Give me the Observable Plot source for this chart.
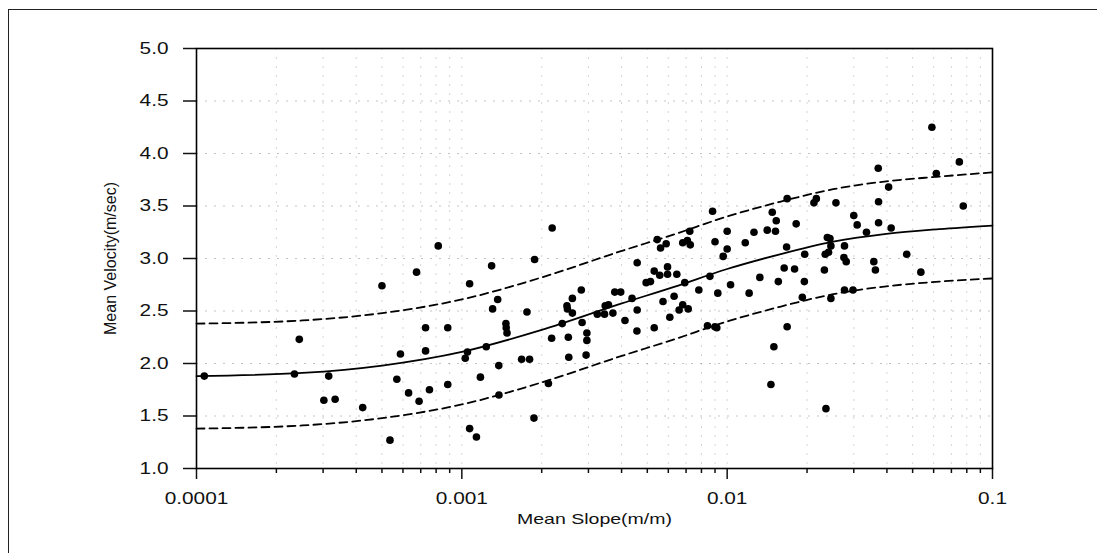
<!DOCTYPE html>
<html><head><meta charset="utf-8">
<script src="https://cdn.jsdelivr.net/npm/d3@7"></script>
<script src="https://cdn.jsdelivr.net/npm/@observablehq/plot@0.6"></script>
<style>
html,body{margin:0;padding:0;background:#fff;}
#wrap{position:relative;width:1097px;height:553px;overflow:hidden;}
#chart svg{display:block;}
#border{position:absolute;left:8px;top:9px;right:-5px;bottom:-5px;border-top:1.5px solid #222;border-left:1.5px solid #222;pointer-events:none;}
</style></head><body>
<div id="wrap"><div id="chart"></div><div id="border"></div></div>
<script>
// Observed points: mean slope (m/m) and mean velocity (m/sec)
const slope = [
  0.000107, 0.000244, 0.000234, 0.000315, 0.000302, 0.000333, 0.000423, 0.000500, 0.000536, 0.000569,
  0.000587, 0.000630, 0.000675, 0.000690, 0.000730, 0.000730, 0.000755, 0.000815, 0.000885, 0.000885,
  0.00103, 0.00105, 0.00107, 0.00107,
  0.001135, 0.001175, 0.001236, 0.001295, 0.001306, 0.001365, 0.001378, 0.00138,
  0.001466, 0.00147, 0.00148, 0.00168, 0.0018, 0.00176, 0.00187, 0.00188,
  0.00212, 0.00218, 0.00219, 0.00239, 0.00252, 0.00253, 0.00249, 0.00250, 0.00261, 0.00261,
  0.00282, 0.00284, 0.00294, 0.00296, 0.00296,
  0.00324, 0.00345, 0.00347, 0.00357, 0.00371, 0.00377, 0.00397, 0.00412, 0.00438, 0.00457,
  0.00458, 0.00458, 0.00495, 0.00514, 0.00531, 0.00531, 0.00545, 0.00561, 0.00589, 0.00557,
  0.00596, 0.00596, 0.00573, 0.00608, 0.00631, 0.00646, 0.00659, 0.0068, 0.00713, 0.00692,
  0.0068, 0.00708, 0.00726, 0.00723, 0.00782, 0.00843, 0.00914, 0.00899, 0.00861, 0.00881,
  0.0090, 0.00922, 0.00966, 0.0100, 0.0100, 0.0103, 0.0117, 0.0121,
  0.01262, 0.01328, 0.01416, 0.01521, 0.01479, 0.01531, 0.01559, 0.0150, 0.01462, 0.0164,
  0.01675, 0.01683, 0.01683, 0.01795, 0.0182, 0.0192, 0.01954, 0.0196, 0.02123, 0.02168,
  0.02325, 0.02357, 0.02385, 0.0244, 0.02342, 0.0241, 0.0246, 0.0246, 0.0257, 0.02768,
  0.02754, 0.0281, 0.02768, 0.0298, 0.0300, 0.0309, 0.0335, 0.0357, 0.0362, 0.0371,
  0.0372, 0.0372, 0.0406, 0.0415, 0.0475, 0.0537, 0.0591, 0.0614, 0.0750, 0.0776
];
const velocity = [
  1.88, 2.23, 1.90, 1.88, 1.65, 1.66, 1.58, 2.74, 1.27, 1.85,
  2.09, 1.72, 2.87, 1.64, 2.34, 2.12, 1.75, 3.12, 2.34, 1.80,
  2.05, 2.11, 2.76, 1.38,
  1.30, 1.87, 2.16, 2.93, 2.52, 2.61, 1.98, 1.70,
  2.38, 2.34, 2.29, 2.04, 2.04, 2.49, 1.48, 2.99,
  1.81, 2.24, 3.29, 2.38, 2.25, 2.06, 2.55, 2.52, 2.62, 2.48,
  2.70, 2.39, 2.08, 2.29, 2.22,
  2.47, 2.47, 2.55, 2.56, 2.48, 2.68, 2.68, 2.41, 2.62, 2.31,
  2.96, 2.51, 2.77, 2.78, 2.34, 2.88, 3.18, 3.10, 3.14, 2.84,
  2.85, 2.92, 2.59, 2.44, 2.64, 2.85, 2.51, 2.56, 2.52, 2.77,
  3.15, 3.17, 3.13, 3.26, 2.70, 2.36, 2.34, 2.35, 2.83, 3.45,
  3.16, 2.67, 3.02, 3.26, 3.09, 2.75, 3.15, 2.67,
  3.25, 2.82, 3.27, 3.26, 3.44, 3.36, 2.78, 2.16, 1.80, 2.91,
  3.11, 3.57, 2.35, 2.90, 3.33, 2.63, 2.78, 3.04, 3.53, 3.57,
  2.89, 1.57, 3.20, 3.19, 3.04, 3.06, 3.12, 2.62, 3.53, 3.12,
  3.01, 2.97, 2.70, 2.70, 3.41, 3.32, 3.25, 2.97, 2.89, 3.86,
  3.54, 3.34, 3.68, 3.29, 3.04, 2.87, 4.25, 3.81, 3.92, 3.50
];
// Fitted curve and its band
const fitSlope    = [0.0001, 0.000251, 0.000501, 0.001, 0.002, 0.00398, 0.00631, 0.01, 0.0158, 0.0251, 0.0398, 0.0631, 0.1];
const fitVelocity = [1.88, 1.91, 1.98, 2.11, 2.32, 2.57, 2.73, 2.90, 3.04, 3.16, 3.235, 3.28, 3.314];
const upperVelocity = [2.38, 2.41, 2.48, 2.61, 2.82, 3.07, 3.23, 3.40, 3.54, 3.66, 3.735, 3.78, 3.82];
const lowerVelocity = [1.38, 1.41, 1.48, 1.61, 1.82, 2.07, 2.23, 2.40, 2.54, 2.66, 2.735, 2.78, 2.81];

const xTickValues = [0.0001, 0.001, 0.01, 0.1];
const xTickLabels = ["0.0001", "0.001", "0.01", "0.1"];
const xMinorTicks = [0.0002, 0.0003, 0.0004, 0.0005, 0.0006, 0.0007, 0.0008, 0.0009,
                     0.002, 0.003, 0.004, 0.005, 0.006, 0.007, 0.008, 0.009,
                     0.02, 0.03, 0.04, 0.05, 0.06, 0.07, 0.08, 0.09];
const yTickValues = [1.0, 1.5, 2.0, 2.5, 3.0, 3.5, 4.0, 4.5, 5.0];
const yGridValues = [1.5, 2.0, 2.5, 3.0, 3.5, 4.0, 4.5];
const xGridValues = [0.0002, 0.0003, 0.0004, 0.0005, 0.0006, 0.0007, 0.0008, 0.0009, 0.001,
                     0.002, 0.003, 0.004, 0.005, 0.006, 0.007, 0.008, 0.009, 0.01,
                     0.02, 0.03, 0.04, 0.05, 0.06, 0.07, 0.08, 0.09];
const xTitle = "Mean Slope(m/m)";
const yTitle = "Mean Velocity(m/sec)";

const points = slope.map((s, i) => ({slope: s, velocity: velocity[i]}));
const fit = fitSlope.map((s, i) => ({slope: s, mid: fitVelocity[i], upper: upperVelocity[i], lower: lowerVelocity[i]}));

const chart = Plot.plot({
  width: 1097, height: 553,
  marginLeft: 196, marginRight: 105, marginTop: 48, marginBottom: 85,
  style: {fontFamily: "'Liberation Sans', Arial, sans-serif", fontSize: "16px", color: "#111", background: "transparent"},
  x: {type: "log", domain: [0.0001, 0.1]},
  y: {domain: [1, 5]},
  marks: [
    Plot.gridY(yGridValues, {stroke: "#888", strokeOpacity: 0.5, strokeDasharray: "2,7"}),
    Plot.gridX(xGridValues, {stroke: "#888", strokeOpacity: 0.35, strokeDasharray: "2,7"}),
    Plot.axisY(yTickValues, {tickSize: 13, tickPadding: 15, tickFormat: d => d.toFixed(1), label: null, strokeWidth: 1.5}),
    Plot.axisX(xTickValues, {tickSize: 11, tickPadding: 13, tickFormat: d => xTickLabels[xTickValues.indexOf(d)], label: null, strokeWidth: 1.5}),
    Plot.axisX(xMinorTicks, {tickSize: 5, tickFormat: () => "", label: null, strokeWidth: 1.5}),
    Plot.frame({stroke: "#000", strokeWidth: 1.6}),
    Plot.line(fit, {x: "slope", y: "upper", curve: "monotone-x", stroke: "#000", strokeWidth: 1.8, strokeDasharray: "8,5"}),
    Plot.line(fit, {x: "slope", y: "lower", curve: "monotone-x", stroke: "#000", strokeWidth: 1.8, strokeDasharray: "8,5"}),
    Plot.line(fit, {x: "slope", y: "mid", curve: "monotone-x", stroke: "#000", strokeWidth: 1.8}),
    Plot.dot(points, {x: "slope", y: "velocity", r: 3.8, fill: "#000", stroke: "none"}),
    Plot.text([xTitle], {frameAnchor: "bottom", dy: 51, textAnchor: "middle", lineAnchor: "middle", fontSize: 15, fill: "#111"}),
    Plot.text([yTitle], {frameAnchor: "left", dx: -86, rotate: -90, textAnchor: "middle", lineAnchor: "middle", fontSize: 16, fill: "#111"})
  ]
});
document.getElementById("chart").append(chart);

// the reference artwork is horizontally stretched: widen horizontal text glyphs
chart.querySelectorAll("text").forEach(t => {
  const tr = t.getAttribute("transform") || "";
  if (tr.includes("rotate")) return;
  const len = t.getComputedTextLength();
  if (!len) return;
  t.setAttribute("textLength", (len * 1.3).toFixed(1));
  t.setAttribute("lengthAdjust", "spacingAndGlyphs");
});
</script>
</body></html>
